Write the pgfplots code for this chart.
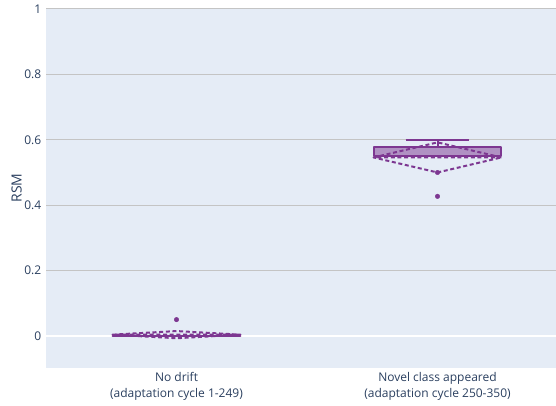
\documentclass[border=0pt]{standalone}
\usepackage{fontspec}
\setmainfont{Open Sans}
\usepackage{pgfplots}
\pgfplotsset{compat=1.18}
\usepgfplotslibrary{statistics}
\definecolor{bg}{HTML}{E5ECF6}
\definecolor{boxc}{RGB}{125,55,145}
\definecolor{txt}{HTML}{2A3F5F}
\definecolor{gridc}{HTML}{C4C4C4}
\begin{document}
\begin{tikzpicture}
\begin{axis}[
  scale only axis, width=382.5pt, height=270pt,
  xmin=-0.5, xmax=1.454, ymin=-0.098, ymax=1.003,
  axis background/.style={fill=bg},
  axis line style={draw=none},
  tick style={draw=none},
  xtick={0,1},
  xticklabels={{No drift\\(adaptation cycle 1-249)},{Novel class appeared\\(adaptation cycle 250-350)}},
  xticklabel style={align=center, font=\fontsize{9}{12}\selectfont, text=txt},
  ytick={0,0.2,0.4,0.6,0.8,1},
  yticklabels={0,0.2,0.4,0.6,0.8,1},
  yticklabel style={font=\fontsize{9}{11}\selectfont, text=txt},
  ymajorgrids, major grid style={gridc, line width=0.75pt},
  ylabel={RSM}, ylabel shift=-5pt,
  ylabel style={font=\fontsize{10.5}{12}\selectfont, text=txt},
  /pgf/number format/assume math mode=true,
  boxplot/draw direction=y,
  boxplot/box extend=0.49,
  boxplot/whisker extend=0.245,
]
\coordinate (sw) at (rel axis cs:0,0);
\coordinate (ne) at (rel axis cs:1,1);
\addplot[white, line width=1.5pt, forget plot] coordinates {(-0.5,0) (1.454,0)};

% No drift
\addplot[boxplot prepared={lower whisker=0, lower quartile=0, median=0, upper quartile=0, upper whisker=0, draw position=0},
  draw=boxc, fill=boxc, fill opacity=0.5, draw opacity=1, line width=1.5pt, line join=round,
  mark=*, mark size=1.7pt, mark options={fill=boxc, draw=boxc, fill opacity=1, line width=0.3pt, solid}]
  coordinates {(0,0.05)};
\addplot[boxc, line width=1.5pt, line join=round, dash pattern=on 3pt off 2pt, forget plot]
  coordinates {(-0.245,0.004) (0,0.015) (0.245,0.004) (0,-0.007) (-0.245,0.004) (0.245,0.004)};

% Novel class
\addplot[boxplot prepared={lower whisker=0.55, lower quartile=0.55, median=0.55, upper quartile=0.577, upper whisker=0.6, draw position=1},
  draw=boxc, fill=boxc, fill opacity=0.5, draw opacity=1, line width=1.5pt, line join=round,
  mark=*, mark size=1.7pt, mark options={fill=boxc, draw=boxc, fill opacity=1, line width=0.3pt, solid}]
  coordinates {(1,0.5) (1,0.427)};
\addplot[boxc, line width=1.5pt, line join=round, dash pattern=on 3pt off 2pt, forget plot]
  coordinates {(0.755,0.546) (1,0.592) (1.245,0.546) (1,0.500) (0.755,0.546) (1.245,0.546)};
\end{axis}
\pgfresetboundingbox
\path ([shift={(-34.5pt,-27.75pt)}]sw) rectangle ([shift={(0pt,6pt)}]ne);
\end{tikzpicture}
\end{document}
